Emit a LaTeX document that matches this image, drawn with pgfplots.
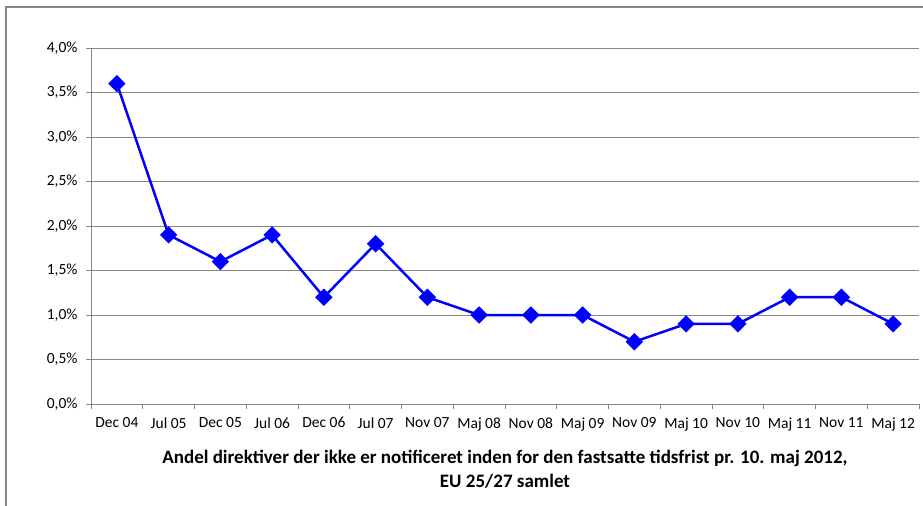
\documentclass[border=0pt]{standalone}
\usepackage{fontspec}
\setmainfont{Carlito}
\usepackage{pgfplots}
\pgfplotsset{compat=1.18}
\definecolor{gridgray}{RGB}{134,134,134}
\definecolor{framegray}{RGB}{134,134,134}
\begin{document}
\begin{tikzpicture}
\useasboundingbox (0,0) rectangle (923bp,-506bp);
\draw[framegray, line width=1.5bp] (6bp,-506bp) -- (6bp,-7bp) -- (923bp,-7bp);
\begin{axis}[
  at={(91bp,-404bp)}, anchor=south west,
  scale only axis,
  width=828bp, height=356bp,
  xmin=-0.5, xmax=15.5,
  ymin=0, ymax=4,
  axis x line*=bottom, axis y line*=left,
  axis line style={gridgray, line width=1bp, -},
  xtick={0,...,15},
  xticklabels={Dec 04,Jul 05,Dec 05,Jul 06,Dec 06,Jul 07,Nov 07,Maj 08,Nov 08,Maj 09,Nov 09,Maj 10,Nov 10,Maj 11,Nov 11,Maj 12},
  minor xtick={-0.5,0.5,...,15.5},
  major x tick style={draw=none},
  minor tick length=5bp,
  major tick length=5bp,
  tick align=outside,
  tick style={gridgray, line width=1bp},
  ytick={0,0.5,...,4},
  yticklabels={{0,0\%},{0,5\%},{1,0\%},{1,5\%},{2,0\%},{2,5\%},{3,0\%},{3,5\%},{4,0\%}},
  ymajorgrids,
  grid style={gridgray, line width=1bp},
  ticklabel style={font=\fontsize{15.5bp}{18bp}\selectfont, text=black},
  xticklabel style={yshift=-5bp},
  yticklabel style={xshift=-5bp},
  xlabel={\textbf{Andel direktiver der ikke er notificeret inden for den fastsatte tidsfrist pr. 10. maj 2012,}\\\textbf{EU 25/27 samlet}},
  xlabel style={font=\fontsize{19bp}{24bp}\selectfont, align=center, yshift=-12bp},
  clip=false,
]
\addplot[color={rgb,255:red,0;green,0;blue,255}, line width=2.5bp, mark=square*, mark size=4.9bp, mark options={rotate=45, solid}] coordinates {
(0,3.6) (1,1.9) (2,1.6) (3,1.9) (4,1.2) (5,1.8) (6,1.2) (7,1.0) (8,1.0) (9,1.0) (10,0.7) (11,0.9) (12,0.9) (13,1.2) (14,1.2) (15,0.9)
};
\end{axis}
\end{tikzpicture}
\end{document}
